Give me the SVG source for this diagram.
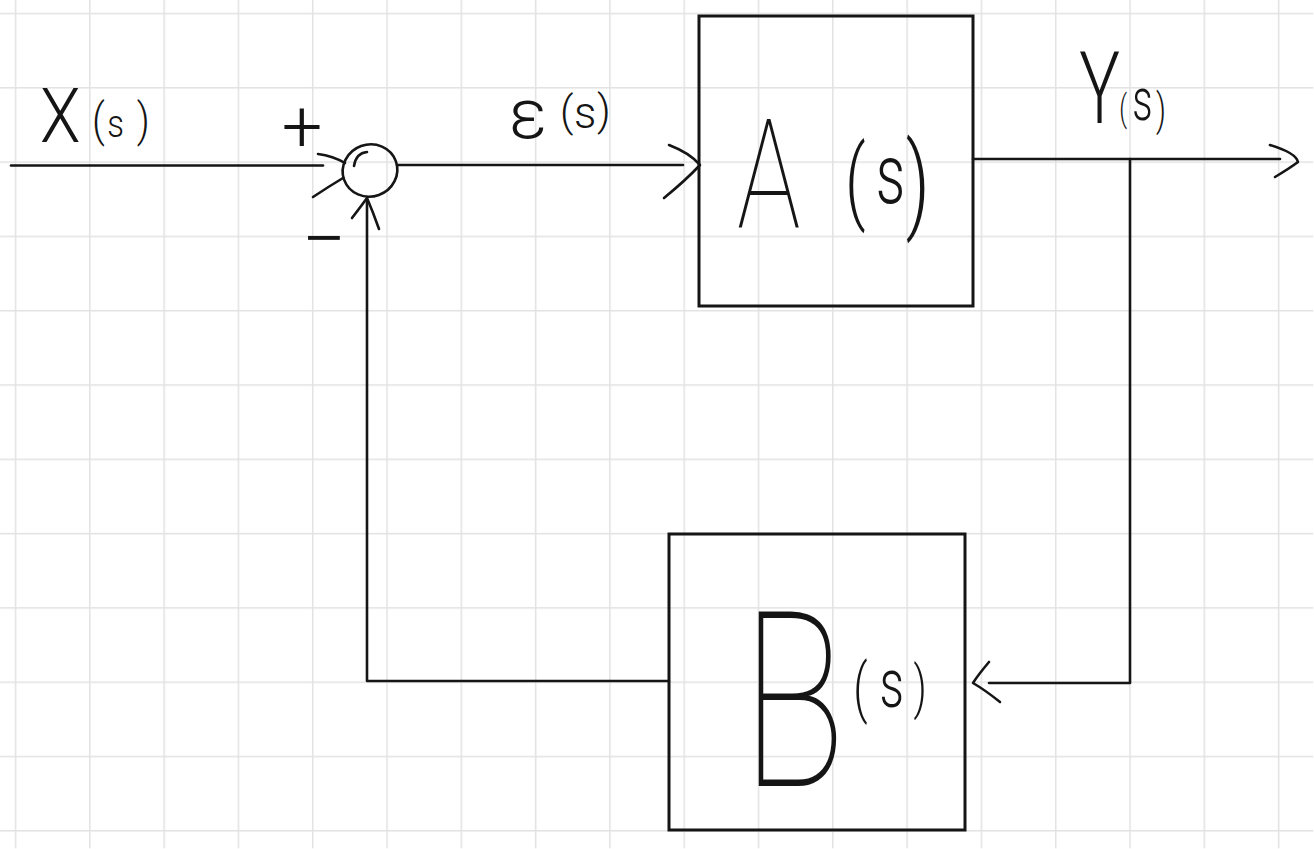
<svg xmlns="http://www.w3.org/2000/svg" width="1314" height="849" viewBox="0 0 1314 849">
<defs>
<pattern id="grid" x="15.5" y="13.5" width="74.3" height="74.3" patternUnits="userSpaceOnUse">
<path d="M0.75,0 V74.3 M0,0.75 H74.3" fill="none" stroke="#e2e2e2" stroke-width="1.5"/>
</pattern>
<style>
.ink{fill:none;stroke:#151515;stroke-width:2.6;stroke-linecap:round;stroke-linejoin:round}
.box{fill:none;stroke:#151515;stroke-width:3}
.hand{font-family:Roboto,"DejaVu Sans",sans-serif;font-weight:300;fill:#151515}
.thin{font-weight:100}
.sign{font-family:Roboto,"DejaVu Sans",sans-serif;font-weight:300;fill:#151515;text-anchor:middle}
</style>
</defs>
<rect x="0" y="0" width="1314" height="849" fill="#ffffff"/>
<rect x="0" y="0" width="1314" height="849" fill="url(#grid)" transform="translate(-0.75,-0.75)"/>

<g id="connectors">
<path class="ink" d="M11,165.5 H323"/>
<path class="ink" d="M318,154 Q333,156 345,163 M313,197 Q328,187 343,178"/>
<path class="ink" d="M397,165 H683"/>
<path class="ink" d="M669,145 Q690,153 700,165 Q686,180 664,198"/>
<path class="ink" d="M973,159 H1280"/>
<path class="ink" d="M1270,145 Q1296,153 1298,162 Q1290,168 1275,177"/>
<path class="ink" d="M1130,159 V683 H989"/>
<path class="ink" d="M989,662 Q978,675 973,683 Q985,690 1000,702"/>
<path class="ink" d="M669,681 H367 V200"/>
<path class="ink" d="M352,218 Q362,205 367,198 Q373,212 379,229"/>
</g>

<g id="sum">
<ellipse class="ink" cx="370" cy="170.5" rx="27.5" ry="26" transform="rotate(-20 370 170.5)"/>
<path class="ink" d="M367,152 Q356,153 354,166"/>
<text class="sign" x="302" y="151" font-size="72">+</text>
<text class="sign" x="324" y="266" font-size="78">−</text>
</g>

<g id="label-x">
<text class="hand" transform="scale(0.87,1)"><tspan x="46" y="142" font-size="76">X</tspan><tspan x="105.8" y="136" font-size="46">(</tspan><tspan x="123.3" y="137" font-size="38">s</tspan><tspan x="157.3" y="136" font-size="46">)</tspan></text>
</g>

<g id="label-e">
<text class="hand"><tspan x="509" y="138" font-size="70">ε</tspan><tspan x="560" y="126" font-size="42">(</tspan><tspan x="574" y="128" font-size="44">s</tspan><tspan x="597" y="124.6" font-size="42">)</tspan></text>
</g>

<g id="block-a">
<rect class="box" x="699" y="16" width="274" height="290"/>
<text class="hand" transform="scale(0.7,1)"><tspan class="thin" x="1052.8" y="227" font-size="152">A</tspan><tspan x="1207" y="212" font-size="92">(</tspan><tspan x="1251" y="203" font-size="83">s</tspan><tspan x="1294" y="219" font-size="106">)</tspan></text>
</g>

<g id="label-y">
<text class="hand" transform="scale(0.68,1)"><tspan x="1587" y="123" font-size="100">Y</tspan><tspan x="1646" y="121" font-size="36">(</tspan><tspan x="1665" y="120" font-size="59">s</tspan><tspan x="1700" y="125" font-size="45">)</tspan></text>
</g>

<g id="block-b">
<rect class="box" x="669" y="534" width="296" height="296"/>
<text class="hand" transform="scale(0.7,1)"><tspan class="thin" x="1060" y="786" font-size="245">B</tspan><tspan x="1219" y="710" font-size="64">(</tspan><tspan x="1256.6" y="707" font-size="69">s</tspan><tspan x="1305" y="707" font-size="58">)</tspan></text>
</g>
</svg>
